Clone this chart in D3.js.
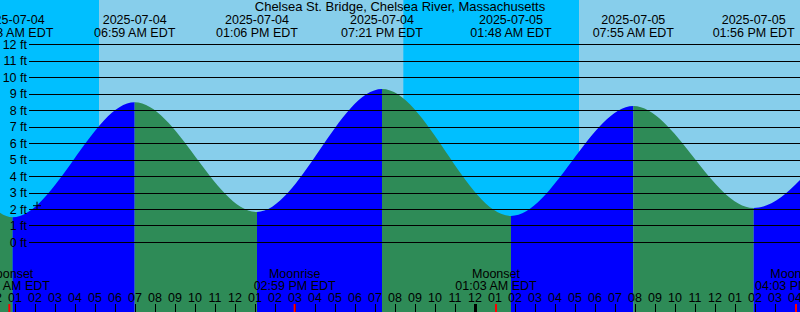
<!DOCTYPE html>
<html>
<head>
<meta charset="utf-8">
<script src="https://cdn.jsdelivr.net/npm/d3@7"></script>
<style>
  body { margin: 0; background: #fff; }
  svg { display: block; font-family: "Liberation Sans", Arial, sans-serif; }
</style>
</head>
<body>
<div id="chart"></div>
<script>
// tide extremes (the first two and last two fall outside the visible window)
const tideTimes = ["2025-07-03 13:00", "2025-07-03 19:20", "2025-07-04 00:53", "2025-07-04 06:59",
                   "2025-07-04 13:06", "2025-07-04 19:21", "2025-07-05 01:48", "2025-07-05 07:55",
                   "2025-07-05 13:56", "2025-07-05 21:00", "2025-07-06 02:40"]
const tideHeights = [1.7, 9.0, 1.5, 8.47, 1.82, 9.27, 1.58, 8.24, 2.06, 8.8, 1.5]

// sunset / sunrise pairs -> night
const nightStarts = ["2025-07-03 20:25", "2025-07-04 20:25"]
const nightEnds = ["2025-07-04 05:12", "2025-07-05 05:12"]

// moon events
const moonTimes = ["2025-07-04 00:43", "2025-07-04 14:59", "2025-07-05 01:03", "2025-07-05 16:03"]
const moonNames = ["Moonset", "Moonrise", "Moonset", "Moonrise"]

const feetTicks = [0, 1, 2, 3, 4, 5, 6, 7, 8, 9, 10, 11, 12]
const nowTime = "2025-07-04 02:06"
const nowHeight = 2.2

const title = "Chelsea St. Bridge, Chelsea River, Massachusetts"

const width = 800
const height = 312

const parse = d3.timeParse("%Y-%m-%d %H:%M")
const fmtDate = d3.timeFormat("%Y-%m-%d")
const fmtTime = d3.timeFormat("%I:%M %p EDT")
const fmtHour = d3.timeFormat("%I")

const tides = tideTimes.map((t, i) => ({ t: parse(t), h: tideHeights[i] }))

const x = d3.scaleTime()
    .domain([parse("2025-07-04 00:15"), parse("2025-07-05 16:15")])
    .range([0, width])

const y = d3.scaleLinear()
    .domain([0, 12])
    .range([242, 44])

const svg = d3.select("#chart").append("svg")
    .attr("width", width)
    .attr("height", height)

// sky: day then night blocks
svg.append("rect")
    .attr("width", width).attr("height", height)
    .attr("fill", "#87CEEB")

svg.append("g").selectAll("rect")
  .data(nightStarts.map((s, i) => [parse(s), parse(nightEnds[i])]))
  .join("rect")
    .attr("x", d => x(d[0]))
    .attr("width", d => x(d[1]) - x(d[0]))
    .attr("y", 0)
    .attr("height", height)
    .attr("fill", "#00BFFF")

// water area used as clip
const area = d3.area()
    .x(d => x(d.t))
    .y0(height)
    .y1(d => y(d.h))
    .curve(d3.curveMonotoneX)

svg.append("clipPath").attr("id", "water")
  .append("path")
    .attr("d", area(tides))

// rising = blue, falling = green
svg.append("g")
    .attr("clip-path", "url(#water)")
  .selectAll("rect")
  .data(d3.pairs(tides))
  .join("rect")
    .attr("x", d => x(d[0].t))
    .attr("width", d => x(d[1].t) - x(d[0].t))
    .attr("y", 0)
    .attr("height", height)
    .attr("fill", d => d[1].h > d[0].h ? "#0000FF" : "#2E8B57")

// horizontal foot lines
svg.append("g")
    .attr("shape-rendering", "crispEdges")
  .selectAll("line")
  .data(feetTicks)
  .join("line")
    .attr("x1", 29)
    .attr("x2", width)
    .attr("y1", d => Math.round(y(d)) + 0.5)
    .attr("y2", d => Math.round(y(d)) + 0.5)
    .attr("stroke", "#000")
    .attr("stroke-width", 1)

svg.append("g")
    .attr("font-size", 12.5)
    .attr("text-anchor", "end")
  .selectAll("text")
  .data(feetTicks)
  .join("text")
    .attr("x", 27)
    .attr("y", d => y(d))
    .attr("dy", "0.36em")
    .text(d => d + " ft")

// now marker
const nx = x(parse(nowTime)), ny = y(nowHeight)
svg.append("path")
    .attr("d", `M${nx - 4},${ny}H${nx + 4}M${nx},${ny - 4}V${ny + 4}`)
    .attr("stroke", "#000")
    .attr("fill", "none")

// title
svg.append("text")
    .attr("x", width / 2)
    .attr("y", 11)
    .attr("text-anchor", "middle")
    .attr("font-size", 13)
    .text(title)

// tide extreme labels
const shown = tides.filter(d => d.t >= x.domain()[0] && d.t <= x.domain()[1])
const topLabels = svg.append("g")
    .attr("font-size", 12.5)
    .attr("text-anchor", "middle")
  .selectAll("g")
  .data(shown)
  .join("g")
topLabels.append("text")
    .attr("x", d => x(d.t))
    .attr("y", 23.5)
    .text(d => fmtDate(d.t))
topLabels.append("text")
    .attr("x", d => x(d.t))
    .attr("y", 36.5)
    .text(d => fmtTime(d.t))

// hour ticks and labels
const hours = d3.timeHour.range(d3.timeHour.offset(x.domain()[0], -1), d3.timeHour.offset(x.domain()[1], 1))

svg.append("g")
    .attr("font-size", 12.5)
    .attr("text-anchor", "middle")
  .selectAll("text")
  .data(hours)
  .join("text")
    .attr("x", d => x(d))
    .attr("y", 302)
    .text(d => fmtHour(d))

svg.append("g")
    .attr("shape-rendering", "crispEdges")
  .selectAll("line")
  .data(hours)
  .join("line")
    .attr("x1", d => Math.round(x(d)) + 0.5)
    .attr("x2", d => Math.round(x(d)) + 0.5)
    .attr("y1", 304)
    .attr("y2", height)
    .attr("stroke", "#000")
    .attr("stroke-width", d => d.getHours() === 0 ? 3 : 1)

// moon events
const moon = moonTimes.map((t, i) => ({ t: parse(t), name: moonNames[i] }))
const moonG = svg.append("g")
    .attr("font-size", 12.5)
    .attr("text-anchor", "middle")
  .selectAll("g")
  .data(moon)
  .join("g")
moonG.append("text")
    .attr("x", d => x(d.t))
    .attr("y", 278)
    .text(d => d.name)
moonG.append("text")
    .attr("x", d => x(d.t))
    .attr("y", 289.5)
    .text(d => fmtTime(d.t))
moonG.append("line")
    .attr("x1", d => x(d.t))
    .attr("x2", d => x(d.t))
    .attr("y1", 304)
    .attr("y2", height)
    .attr("stroke", "#FF0000")
    .attr("stroke-width", 2)
</script>
</body>
</html>
